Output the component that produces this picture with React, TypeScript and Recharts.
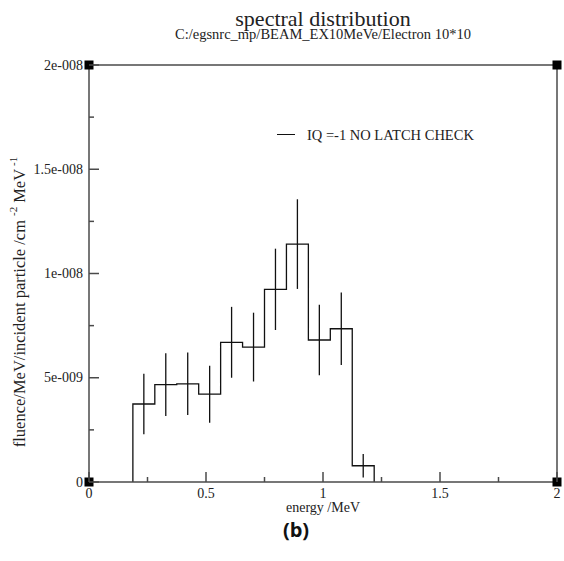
import { ComposedChart, Line, Scatter, ErrorBar, XAxis, YAxis, ReferenceDot } from "recharts";

// ─── data ────────────────────────────────────────────────────────────────────

const BIN_EDGES = [0.1875, 0.28125, 0.375, 0.46875, 0.5625, 0.65625, 0.75, 0.84375, 0.9375, 1.03125, 1.125, 1.21875];
const FLUENCE = [3.74e-9, 4.67e-9, 4.71e-9, 4.21e-9, 6.7e-9, 6.47e-9, 9.24e-9, 11.41e-9, 6.81e-9, 7.35e-9, 0.78e-9];
const FLUENCE_ERR = [1.45e-9, 1.5e-9, 1.5e-9, 1.37e-9, 1.7e-9, 1.65e-9, 1.95e-9, 2.15e-9, 1.69e-9, 1.74e-9, 0.56e-9];
const X_TICKS = [0, 0.25, 0.5, 0.75, 1, 1.25, 1.5, 1.75, 2];
const Y_TICKS = [0, 2.5e-9, 5e-9, 7.5e-9, 1e-8, 1.25e-8, 1.5e-8, 1.75e-8, 2e-8];
const CORNERS = [
  { x: 0, y: 0 },
  { x: 0, y: 2e-8 },
  { x: 2, y: 0 },
  { x: 2, y: 2e-8 },
];

const TITLE = "spectral distribution";
const SUBTITLE = "C:/egsnrc_mp/BEAM_EX10MeVe/Electron 10*10";
const LEGEND = "IQ =-1 NO LATCH CHECK";

// ─── styling ─────────────────────────────────────────────────────────────────

const SERIF = '"Liberation Serif", "Times New Roman", serif';
const AXIS = "#4a4a4a";
const INK = "#111";
const TEXT = "#222";

// histogram outline: up at the first edge, steps, down at the last edge
const stepData = [
  { x: BIN_EDGES[0], y: 0 },
  ...FLUENCE.map((v, i) => ({ x: BIN_EDGES[i], y: v })),
  { x: BIN_EDGES[BIN_EDGES.length - 1], y: 0 },
];

const errData = FLUENCE.map((v, i) => ({
  x: (BIN_EDGES[i] + BIN_EDGES[i + 1]) / 2,
  y: v,
  err: FLUENCE_ERR[i],
}));

function fmtExp(v: number) {
  if (v === 0) return "0";
  const [m, e] = v.toExponential().split("e");
  const n = parseInt(e, 10);
  return `${m}e${n < 0 ? "-" : "+"}${String(Math.abs(n)).padStart(3, "0")}`;
}

const tickLen = (i: number) => (i % 2 === 0 ? 10 : 5);
const serifStyle = { fontFamily: SERIF };

function BottomTick({ x, y, payload, index }: any) {
  return (
    <g>
      <line x1={x} x2={x} y1={y} y2={y - tickLen(index)} stroke={AXIS} strokeWidth={1.5} />
      {index % 2 === 0 && (
        <text x={x} y={y + 16} textAnchor="middle" fontSize={14} style={serifStyle} fill={TEXT}>
          {payload.value}
        </text>
      )}
    </g>
  );
}

function TopTick({ x, y, index }: any) {
  return <line x1={x} x2={x} y1={y} y2={y + tickLen(index)} stroke={AXIS} strokeWidth={1.5} />;
}

function LeftTick({ x, y, payload, index }: any) {
  return (
    <g>
      <line x1={x} x2={x + tickLen(index)} y1={y} y2={y} stroke={AXIS} strokeWidth={1.5} />
      {index % 2 === 0 && (
        <text x={x - 6} y={y + 4.6} textAnchor="end" fontSize={14} style={serifStyle} fill={TEXT}>
          {fmtExp(payload.value)}
        </text>
      )}
    </g>
  );
}

function RightTick({ x, y, index }: any) {
  return <line x1={x} x2={x - tickLen(index)} y1={y} y2={y} stroke={AXIS} strokeWidth={1.5} />;
}

const cornerSquare = (p: any) => <rect x={p.cx - 4.5} y={p.cy - 4.5} width={9} height={9} fill="#000" />;

export default function App() {
  return (
    <div style={{ position: "absolute", left: 0, top: 0, width: 564, height: 561, background: "#fff" }}>
      <ComposedChart width={564} height={561} margin={{ top: 64, right: 6, bottom: 49, left: 0 }}>
        <XAxis
          dataKey="x" type="number" domain={[0, 2]} ticks={X_TICKS} interval={0} allowDataOverflow
          height={30} tickSize={0} tickMargin={0} tickLine={false}
          axisLine={{ stroke: AXIS, strokeWidth: 1.5 }} tick={BottomTick}
        />
        <XAxis
          xAxisId="top" orientation="top" type="number" domain={[0, 2]} ticks={X_TICKS} interval={0}
          height={1} tickSize={0} tickMargin={0} tickLine={false}
          axisLine={{ stroke: AXIS, strokeWidth: 1.5 }} tick={TopTick}
        />
        <YAxis
          dataKey="y" type="number" domain={[0, 2e-8]} ticks={Y_TICKS} interval={0} allowDataOverflow
          width={89} tickSize={0} tickMargin={0} tickLine={false}
          axisLine={{ stroke: AXIS, strokeWidth: 1.5 }} tick={LeftTick}
        />
        <YAxis
          yAxisId="right" orientation="right" type="number" domain={[0, 2e-8]} ticks={Y_TICKS} interval={0}
          width={1} tickSize={0} tickMargin={0} tickLine={false}
          axisLine={{ stroke: AXIS, strokeWidth: 1.5 }} tick={RightTick}
        />
        <Line
          data={stepData} dataKey="y" type="stepAfter" stroke={INK} strokeWidth={1.3}
          dot={false} activeDot={false} isAnimationActive={false}
        />
        <Scatter data={errData} dataKey="y" shape={() => <g />} isAnimationActive={false}>
          <ErrorBar dataKey="err" direction="y" width={0} stroke={INK} strokeWidth={1.3} isAnimationActive={false} />
        </Scatter>
        {CORNERS.map((c, i) => (
          <ReferenceDot key={i} x={c.x} y={c.y} ifOverflow="visible" shape={cornerSquare} />
        ))}
      </ComposedChart>

      {/* titles */}
      <div style={{ position: "absolute", left: 89, width: 468, top: 9.6, textAlign: "center",
        fontFamily: SERIF, fontSize: 22, lineHeight: "18px", color: TEXT }}>{TITLE}</div>
      <div style={{ position: "absolute", left: 89, width: 468, top: 28.2, textAlign: "center",
        fontFamily: SERIF, fontSize: 14.5, lineHeight: "12px", color: TEXT }}>{SUBTITLE}</div>

      {/* legend */}
      <div style={{ position: "absolute", left: 277, top: 134, width: 18, height: 0, borderTop: `1.3px solid ${INK}` }} />
      <div style={{ position: "absolute", left: 307, top: 127.7, whiteSpace: "nowrap",
        fontFamily: SERIF, fontSize: 14.5, lineHeight: "14.5px", color: TEXT }}>{LEGEND}</div>

      {/* x label */}
      <div style={{ position: "absolute", left: 89, width: 468, top: 501.5, textAlign: "center",
        fontFamily: SERIF, fontSize: 14, lineHeight: "12px", color: TEXT }}>energy /MeV</div>

      {/* y label */}
      <svg width={564} height={561} style={{ position: "absolute", left: 0, top: 0, pointerEvents: "none" }}>
        <text transform="rotate(-90, 25, 302)" x={25} y={302} textAnchor="middle"
          style={serifStyle} fontSize={16.5} fill={TEXT}>
          fluence/MeV/incident particle /cm
          <tspan fontSize={11} dy={-8} dx={4}>-2</tspan>
          <tspan dy={8} dx={4}>MeV</tspan>
          <tspan fontSize={11} dy={-8} dx={3}>-1</tspan>
        </text>
      </svg>

      {/* panel tag */}
      <div style={{ position: "absolute", left: 0, width: 592, top: 518, textAlign: "center",
        fontFamily: '"Open Sans", sans-serif', fontWeight: 700, fontSize: 20, lineHeight: "24px", color: "#111" }}>(b)</div>
    </div>
  );
}
